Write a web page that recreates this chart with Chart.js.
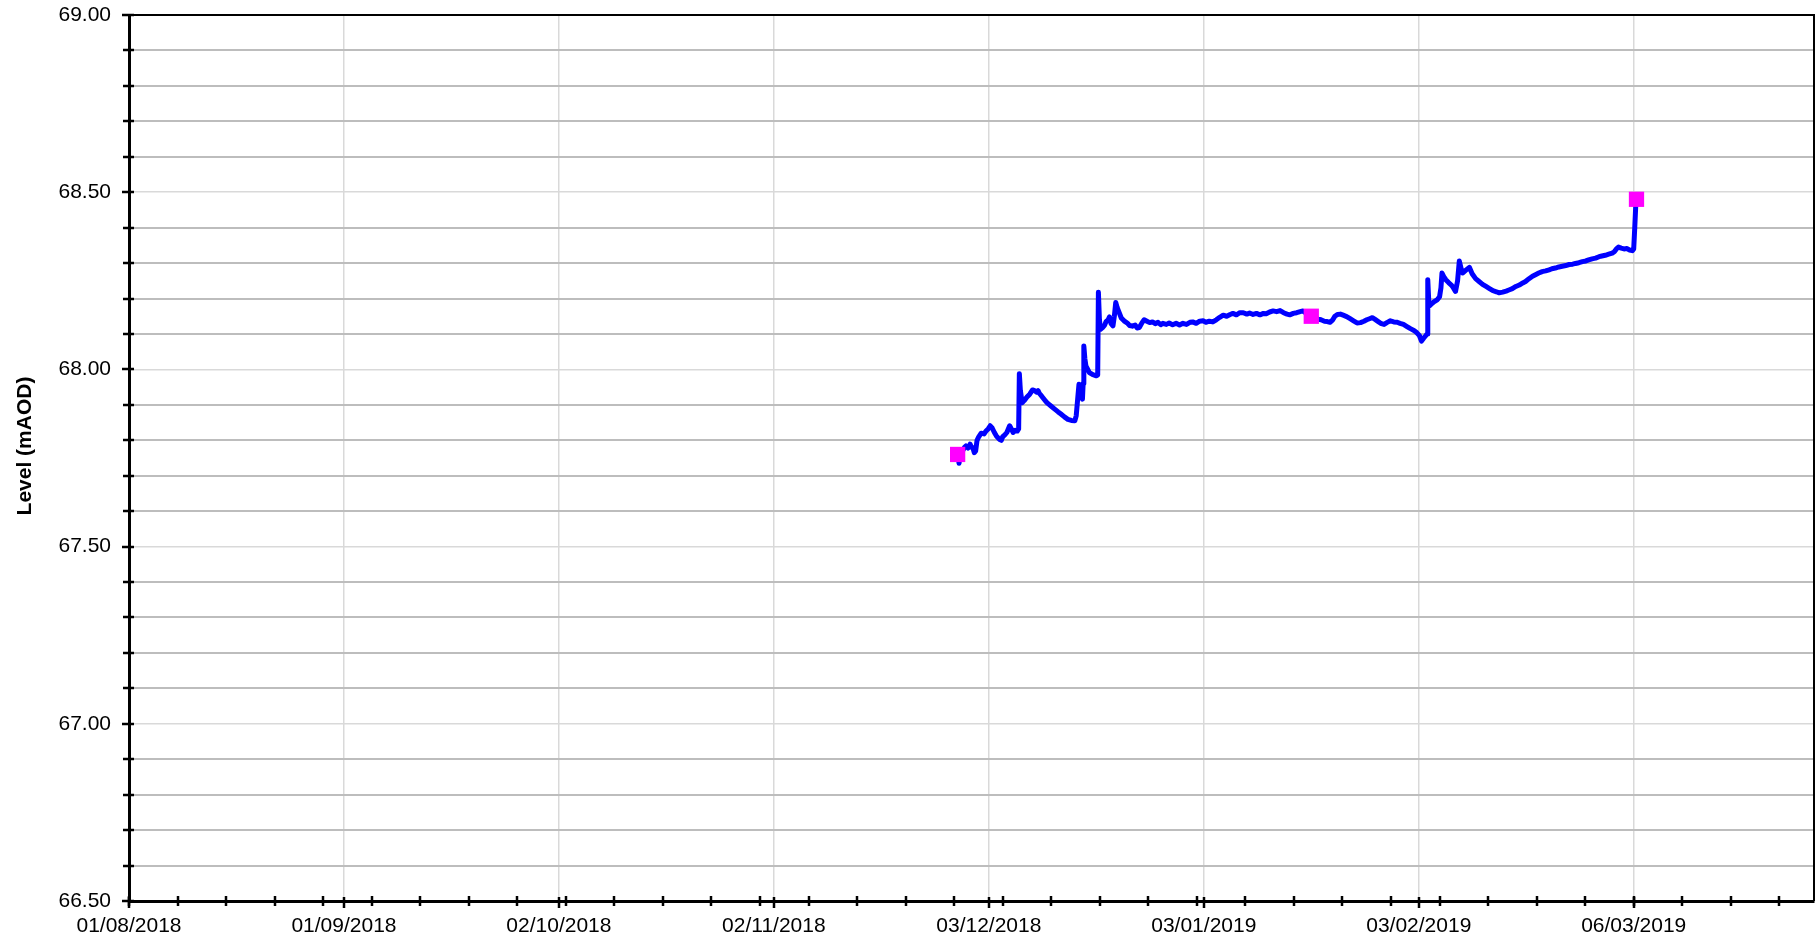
<!DOCTYPE html>
<html>
<head>
<meta charset="utf-8">
<script src="https://cdn.jsdelivr.net/npm/chart.js@4.4.1/dist/chart.umd.min.js"></script>
<style>
html,body{margin:0;padding:0;background:#fff;}
#wrap{width:1816px;height:944px;}
</style>
</head>
<body>
<div id="wrap"><canvas id="c" width="1816" height="944"></canvas></div>
<script>
// ---- data ----
const axisStartDate = '01/08/2018';
const axisEndDate = '01/04/2019';
const xTickLabels = ['01/08/2018','01/09/2018','02/10/2018','02/11/2018','03/12/2018','03/01/2019','03/02/2019','06/03/2019'];
const yMin = 66.5, yMax = 69.0, yStep = 0.1, yLabelStep = 0.5;
const yAxisTitle = 'Level (mAOD)';

// logger level: days since 01/08/2018, and level in mAOD
const levelDays = [
119.55,119.7,119.85,120.2,120.5,120.7,121.0,121.3,121.5,121.7,121.9,122.1,122.3,122.5,122.9,123.3,123.6,123.9,124.2,124.5,
124.8,125.1,125.5,125.8,126.0,126.3,126.6,127.0,127.3,127.5,127.8,128.1,128.3,128.4,128.55,128.8,129.1,129.5,129.9,130.3,
130.6,130.9,131.1,131.3,131.6,131.8,132.2,132.5,133.0,133.5,134.0,134.4,134.9,135.4,135.9,136.4,136.6,136.85,137.0,137.25,
137.5,137.6,137.7,137.85,138.0,138.5,139.0,139.5,139.7,139.8,139.95,140.1,140.4,140.7,140.9,141.2,141.4,141.6,141.9,142.1,
142.3,142.5,142.8,143.1,143.5,144.0,144.3,144.7,145.1,145.4,145.7,146.1,146.4,146.8,147.2,147.6,148.0,148.4,148.8,149.1,
149.6,150.0,150.5,151.0,151.5,152.0,152.5,153.0,153.4,153.9,154.4,154.9,155.3,155.8,156.3,156.8,157.3,157.8,158.3,158.8,
159.2,159.7,160.2,160.7,161.2,161.6,162.1,162.6,163.1,163.6,164.0,164.5,165.0,165.5,166.0,166.5,167.0,167.4,167.9,168.4,
168.9,169.3,169.8,170.2,170.6,171.0,171.5,171.9,172.4,172.8,173.2,173.6,173.9,174.3,174.7,175.1,175.6,176.1,176.6,177.1,
177.6,178.1,178.5,178.9,179.3,179.7,180.0,180.5,181.0,181.4,181.9,182.4,182.9,183.3,183.8,184.3,184.8,185.3,185.7,186.1,
186.4,186.7,187.0,187.2,187.3,187.45,187.6,187.9,188.3,188.7,189.0,189.2,189.35,189.6,189.9,190.3,190.7,191.0,191.3,191.6,
191.85,192.1,192.35,192.8,193.3,193.7,194.2,194.7,195.2,195.7,196.2,196.7,197.2,197.6,198.1,198.6,199.0,199.5,200.0,200.5,
201.0,201.4,201.9,202.4,202.9,203.3,203.8,204.3,204.8,205.2,205.7,206.2,206.7,207.2,207.7,208.2,208.6,209.1,209.6,210.1,
210.5,211.0,211.5,212.0,212.4,212.9,213.4,213.9,214.2,214.5,214.8,215.2,215.6,216.0,216.4,216.8,217.0,217.15,217.3
];
const levelValues = [
67.760,67.735,67.755,67.770,67.780,67.784,67.778,67.789,67.780,67.779,67.765,67.770,67.800,67.808,67.820,67.818,67.826,67.832,67.841,67.834,
67.822,67.812,67.803,67.800,67.810,67.815,67.822,67.841,67.830,67.822,67.828,67.826,67.832,67.988,67.940,67.906,67.912,67.922,67.930,67.942,
67.940,67.936,67.940,67.932,67.925,67.920,67.910,67.904,67.896,67.888,67.880,67.874,67.866,67.859,67.856,67.855,67.869,67.925,67.958,67.935,
67.916,67.960,68.066,68.030,68.010,67.991,67.985,67.982,67.984,68.218,68.140,68.113,68.118,68.125,68.135,68.140,68.148,68.130,68.123,68.150,
68.189,68.175,68.160,68.145,68.137,68.130,68.124,68.122,68.125,68.117,68.118,68.132,68.140,68.136,68.132,68.134,68.129,68.133,68.126,68.130,
68.127,68.131,68.126,68.130,68.125,68.130,68.127,68.133,68.134,68.130,68.136,68.137,68.133,68.136,68.134,68.140,68.147,68.153,68.150,68.155,
68.158,68.154,68.160,68.160,68.156,68.159,68.155,68.158,68.154,68.158,68.157,68.162,68.165,68.163,68.166,68.160,68.156,68.154,68.158,68.160,
68.163,68.165,68.158,68.152,68.150,68.146,68.142,68.140,68.136,68.135,68.133,68.140,68.150,68.155,68.156,68.153,68.149,68.143,68.137,68.131,
68.132,68.136,68.140,68.143,68.146,68.141,68.137,68.130,68.127,68.132,68.137,68.134,68.133,68.130,68.127,68.121,68.115,68.110,68.104,68.095,
68.080,68.088,68.095,68.100,68.253,68.190,68.180,68.186,68.192,68.197,68.205,68.230,68.272,68.262,68.253,68.245,68.238,68.230,68.220,68.250,
68.306,68.285,68.272,68.280,68.288,68.270,68.256,68.248,68.240,68.234,68.228,68.222,68.219,68.216,68.218,68.221,68.224,68.228,68.234,68.238,
68.244,68.248,68.256,68.263,68.268,68.272,68.276,68.278,68.281,68.284,68.286,68.289,68.291,68.293,68.296,68.297,68.299,68.301,68.304,68.306,
68.309,68.312,68.314,68.318,68.320,68.322,68.325,68.328,68.332,68.340,68.345,68.342,68.340,68.341,68.337,68.335,68.340,68.400,68.465
];

// manual dip readings: days since 01/08/2018, level in mAOD
const dipDays = [119.5, 170.5, 217.4];
const dipValues = [67.76, 68.15, 68.48];

// ---- helpers ----
function dmyToDays(s){
  const p = s.split('/').map(Number);
  const base = Date.UTC(2018,7,1);
  return (Date.UTC(p[2], p[1]-1, p[0]) - base) / 86400000;
}
const xMin = dmyToDays(axisStartDate);
const xMax = dmyToDays(axisEndDate);
const xTickDays = xTickLabels.map(dmyToDays);
const weekTickDays = [];
for (let d = xMin; d <= xMax; d += 7) weekTickDays.push(d);
const yTickValues = [];
for (let i = 0; i <= Math.round((yMax - yMin) / yStep); i++) yTickValues.push(Math.round((yMin + i * yStep) * 10) / 10);
const isLabelled = v => Math.abs(v / yLabelStep - Math.round(v / yLabelStep)) < 1e-6;

const FONT = "'Liberation Sans', Arial, sans-serif";

const framePlugin = {
  id: 'frame',
  afterDatasetsDraw(chart) {
    const ctx = chart.ctx, a = chart.chartArea;
    const xs = chart.scales.x, ys = chart.scales.y;
    ctx.save();
    ctx.strokeStyle = '#000';
    // top and right frame
    ctx.lineWidth = 2;
    ctx.beginPath();
    ctx.moveTo(a.left, a.top); ctx.lineTo(a.right, a.top); ctx.lineTo(a.right, a.bottom);
    ctx.stroke();
    // y tick marks
    ctx.lineWidth = 2.5;
    yTickValues.forEach(v => {
      const py = Math.round(ys.getPixelForValue(v));
      ctx.beginPath();
      ctx.moveTo(a.left - (isLabelled(v) ? 7 : 6), py);
      ctx.lineTo(a.left + 5, py);
      ctx.stroke();
    });
    // weekly minor x ticks
    weekTickDays.forEach(d => {
      const px = Math.round(xs.getPixelForValue(d));
      ctx.beginPath(); ctx.moveTo(px, a.bottom - 5); ctx.lineTo(px, a.bottom + 5); ctx.stroke();
    });
    // labelled x ticks
    xTickDays.forEach(d => {
      const px = Math.round(xs.getPixelForValue(d));
      ctx.beginPath(); ctx.moveTo(px, a.bottom - 4); ctx.lineTo(px, a.bottom + 7); ctx.stroke();
    });
    ctx.restore();
  },
  afterDraw(chart) {
    const ctx = chart.ctx;
    ctx.save();
    ctx.translate(25, 446);
    ctx.rotate(-Math.PI / 2);
    ctx.font = 'bold 21px ' + FONT;
    ctx.fillStyle = '#000';
    ctx.textAlign = 'center';
    ctx.textBaseline = 'middle';
    ctx.fillText(yAxisTitle, 0, 0);
    ctx.restore();
  }
};

const chart = new Chart(document.getElementById('c'), {
  type: 'line',
  data: {
    datasets: [
      {
        label: 'Dip',
        data: dipDays.map((d, i) => ({x: d, y: dipValues[i]})),
        showLine: false,
        pointStyle: 'rect',
        pointRadius: 10.8,
        pointHoverRadius: 10.8,
        backgroundColor: '#ff00ff',
        borderColor: '#ff00ff',
        pointBorderWidth: 0,
        order: 0
      },
      {
        label: 'Level',
        data: levelDays.map((d, i) => ({x: d, y: levelValues[i]})),
        borderColor: '#0000ff',
        borderWidth: 5,
        borderJoinStyle: 'round',
        borderCapStyle: 'round',
        pointRadius: 0,
        tension: 0,
        fill: false,
        order: 1
      }
    ]
  },
  options: {
    responsive: false,
    animation: false,
    devicePixelRatio: 1,
    layout: {padding: {top: 15, right: 2, left: 0, bottom: 0}},
    plugins: {legend: {display: false}, tooltip: {enabled: false}},
    scales: {
      x: {
        type: 'linear',
        min: xMin,
        max: xMax,
        afterBuildTicks: s => { s.ticks = xTickDays.map(v => ({value: v})); },
        afterFit: s => { s.height = 43; s.paddingLeft = 0; s.paddingRight = 0; },
        ticks: {
          autoSkip: false, maxRotation: 0, minRotation: 0, padding: 13,
          color: '#000', font: {family: FONT, size: 21},
          callback: (v, i) => xTickLabels[i]
        },
        grid: {color: '#d9d9d9', lineWidth: 1.5, drawTicks: false},
        border: {display: true, color: '#000', width: 3}
      },
      y: {
        type: 'linear',
        min: yMin,
        max: yMax,
        afterBuildTicks: s => { s.ticks = yTickValues.map(v => ({value: v})); },
        afterFit: s => { s.width = 129; s.paddingTop = 0; s.paddingBottom = 0; },
        ticks: {
          autoSkip: false, padding: 18,
          color: '#000', font: {family: FONT, size: 21},
          callback: v => isLabelled(v) ? v.toFixed(2) : ''
        },
        grid: {
          drawTicks: false,
          color: c => isLabelled(c.tick.value) ? '#d9d9d9' : '#bdbdbd',
          lineWidth: c => isLabelled(c.tick.value) ? 1.5 : 2
        },
        border: {display: true, color: '#000', width: 3}
      }
    }
  },
  plugins: [framePlugin]
});
// the square markers must not reserve extra space around the plot area
chart.getDatasetMeta(0).controller.getMaxOverflow = () => 0;
chart.getDatasetMeta(1).controller.getMaxOverflow = () => 0;
chart.update();
</script>
</body>
</html>
